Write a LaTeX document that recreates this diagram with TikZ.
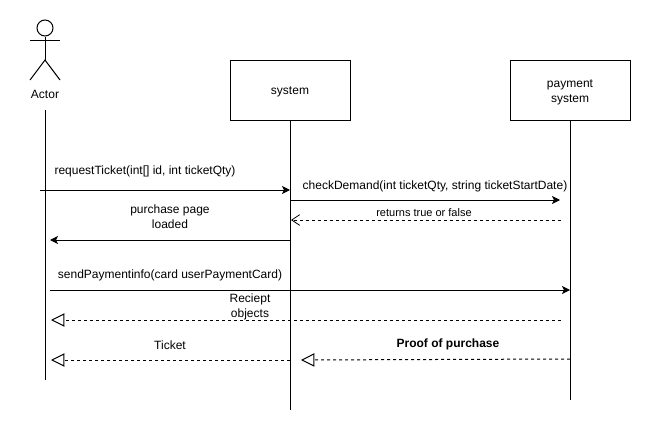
\documentclass[tikz,border=0pt]{standalone}
\usepackage{fontspec}
\setmainfont{Liberation Sans}
\usetikzlibrary{arrows.meta}
\tikzset{
  % Boxes and labels
  box/.style={draw,line width=0.75pt,minimum width=90pt,minimum height=45pt,inner sep=0,align=center,font=\fontsize{9}{11.25}\selectfont},
  msg/.style={inner sep=0,yshift=-1.1pt,align=center,font=\fontsize{9}{11.25}\selectfont},
  msg small/.style={msg,font=\fontsize{8.25}{10}\selectfont},
  % Connections
  lifeline/.style={line width=0.75pt},
  call/.style={line width=0.75pt,-{Stealth[length=6pt,width=6pt,inset=1.5pt]}},
  reply/.style={line width=0.75pt,dash pattern=on 2.25pt off 2.25pt,-{Straight Barb[length=6pt,width=8pt,line width=0.6pt]}},
  result/.style={line width=0.75pt,dash pattern=on 2.25pt off 2.25pt,-{Triangle[open,length=10pt,width=10pt,line width=0.75pt,fill=white]}}
}
\begin{document}
\begin{tikzpicture}[x=0.75pt,y=-0.75pt]
    \useasboundingbox (0,0) rectangle (651,432);
    % actor
    \node[circle,draw,line width=0.75pt,minimum size=12pt,inner sep=0] (head) at (45,28) {};
    \coordinate (armL) at (30,40);
    \coordinate (armR) at (60,40);
    \coordinate (hip) at (45,60);
    \coordinate (legL) at (30,80);
    \coordinate (legR) at (60,80);
    \draw[lifeline] (head.south) -- (hip);
    \draw[lifeline] (armL) -- (armR);
    \draw[lifeline] (legL) -- (hip) -- (legR);
    \node[msg] (actor) at (45,93) {Actor};
    % boxes
    \node[box] (system) at (290,90) {\rule{0pt}{8.5pt}system};
    \node[box] (payment) at (570,90) {\rule{0pt}{10pt}payment\\system};
    % lifelines
    \coordinate (actorTop) at (45,110);
    \coordinate (actorEnd) at (45,380);
    \coordinate (systemEnd) at (290,410);
    \coordinate (paymentEnd) at (570,400);
    \draw[lifeline] (actorTop) -- (actorEnd);
    \draw[lifeline] (system.south) -- (systemEnd);
    \draw[lifeline] (payment.south) -- (paymentEnd);
    % arrow ends
    \coordinate (reqA) at (40,190);
    \coordinate (reqB) at (290,190);
    \coordinate (chkA) at (290,200);
    \coordinate (chkB) at (560,200);
    \coordinate (retA) at (561,220);
    \coordinate (retB) at (291,220);
    \coordinate (pageA) at (290,240);
    \coordinate (pageB) at (50,240);
    \coordinate (sendA) at (50,290);
    \coordinate (sendB) at (570,290);
    \coordinate (recA) at (561,320);
    \coordinate (recB) at (51,320);
    \coordinate (tktA) at (290,360);
    \coordinate (tktB) at (51,360);
    \coordinate (prfA) at (570,359);
    \coordinate (prfB) at (301,360);
    \draw[call] (reqA) -- (reqB);
    \draw[call] (chkA) -- (chkB);
    \draw[reply] (retA) -- (retB);
    \draw[call] (pageA) -- (pageB);
    \draw[call] (sendA) -- (sendB);
    \draw[result] (recA) -- (recB);
    \draw[result] (tktA) -- (tktB);
    \draw[result] (prfA) -- (prfB);
    % labels
    \node[msg] (reqText) at (145,170) {requestTicket(int[] id, int ticketQty)};
    \node[msg] (chkText) at (435,185) {checkDemand(int ticketQty, string ticketStartDate)};
    \node[msg small] (retText) at (424,211) {returns true or false};
    \node[msg] (pageText) at (170,215) {purchase page\\loaded};
    \node[msg] (sendText) at (170,274) {sendPaymentinfo(card userPaymentCard)};
    \node[msg] (recText) at (250,305) {Reciept\\objects};
    \node[msg] (tktText) at (170,344) {Ticket};
    \node[msg,font=\fontsize{9}{11.25}\selectfont\bfseries] (prfText) at (448,343) {Proof of purchase};
\end{tikzpicture}
\end{document}
